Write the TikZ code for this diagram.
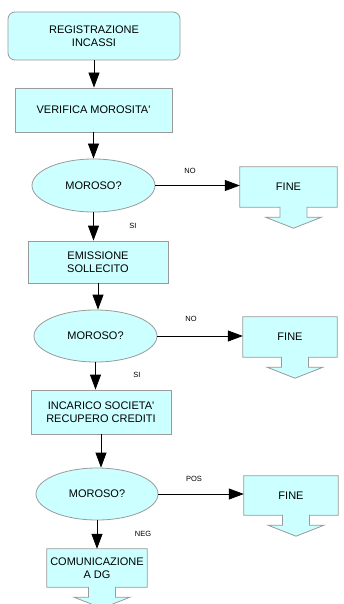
\documentclass[tikz,border=0pt]{standalone}
\usepackage{fontspec}
\setmainfont{Liberation Sans}
\usetikzlibrary{shapes.geometric,arrows.meta,backgrounds}
\definecolor{boxfill}{HTML}{CCFFFF}
\definecolor{boxline}{HTML}{9A9A9A}
% box outline with the down arrow under it
\newcommand\downbox[1]{%
  \draw[outline] (#1.north west) -- (#1.north east) -- (#1.south east)
    -- ([xshift=18.5pt]#1.south) -- ([xshift=18.5pt,yshift=-10pt]#1.south)
    -- ([xshift=33pt,yshift=-10pt]#1.south) -- ([xshift=5pt,yshift=-21pt]#1.south)
    -- ([xshift=-23pt,yshift=-10pt]#1.south) -- ([xshift=-8.5pt,yshift=-10pt]#1.south)
    -- ([xshift=-8.5pt]#1.south) -- (#1.south west) -- cycle;}
\begin{document}
\begin{tikzpicture}[x=1pt,y=-1pt,
  base/.style={font=\fontsize{11}{13}\selectfont, align=center, inner sep=0pt},
  stepbox/.style={base, rectangle, fill=boxfill, draw=boxline, line width=.8pt},
  startbox/.style={stepbox, rounded corners=7pt},
  decision/.style={base, ellipse, fill=boxfill, draw=boxline, line width=.8pt},
  endbox/.style={base, rectangle},
  outline/.style={fill=boxfill, draw=boxline, line width=.8pt},
  lbl/.style={font=\fontsize{7.5}{8}\selectfont, inner sep=0pt},
  flow/.style={-{Triangle[length=15pt,width=11pt]}, line width=.8pt}]
\useasboundingbox (0,0) rectangle (344,604);
\clip (0,0) rectangle (344,604);

\node[startbox, minimum width=172, minimum height=48] (reg) at (94,36) {REGISTRAZIONE\\INCASSI};
\node[stepbox, minimum width=157, minimum height=44] (verif) at (93.5,110) {VERIFICA MOROSITA\textquotesingle};
\node[decision, minimum width=123, minimum height=53] (dec1) at (93.5,185.5) {MOROSO?};
\node[stepbox, minimum width=140, minimum height=42] (emiss) at (98,262) {EMISSIONE\\SOLLECITO};
\node[decision, minimum width=123, minimum height=52] (dec2) at (95.5,336) {MOROSO?};
\node[stepbox, minimum width=140, minimum height=44] (incar) at (101,412) {INCARICO SOCIETA\textquotesingle\\RECUPERO CREDITI};
\node[decision, minimum width=122, minimum height=52] (dec3) at (97,494) {MOROSO?};

\node[endbox, minimum width=97, minimum height=40] (fine1) at (288.5,187) {FINE};
\node[endbox, minimum width=94, minimum height=40] (fine2) at (290,337) {FINE};
\node[endbox, minimum width=94, minimum height=39] (fine3) at (291,495.5) {FINE};
\node[endbox, minimum width=100, minimum height=38] (comun) at (97,568) {COMUNICAZIONE\\A DG};

\begin{scope}[on background layer]
\downbox{fine1}
\downbox{fine2}
\downbox{fine3}
\downbox{comun}
\end{scope}

\node[lbl] (no1) at (190,171) {NO};
\node[lbl] (si1) at (133,226) {SI};
\node[lbl] (no2) at (191,319) {NO};
\node[lbl] (si2) at (137,375) {SI};
\node[lbl] (pos) at (194,479) {POS};
\node[lbl] (neg) at (143,534) {NEG};

\draw[flow] (reg.south) -- (reg.south |- verif.north);
\draw[flow] (verif.south) -- (verif.south |- dec1.north);
\draw[flow] (dec1.south) -- (dec1.south |- emiss.north);
\draw[flow] (emiss.south) -- (emiss.south |- dec2.north);
\draw[flow] (dec2.south) -- (dec2.south |- incar.north);
\draw[flow] (incar.south) -- (incar.south |- dec3.north);
\draw[flow] (dec3.south) -- (dec3.south |- comun.north);
\draw[flow] (dec1.east) -- (dec1.east -| fine1.west);
\draw[flow] (dec2.east) -- (dec2.east -| fine2.west);
\draw[flow] (dec3.east) -- (dec3.east -| fine3.west);
\end{tikzpicture}
\end{document}
